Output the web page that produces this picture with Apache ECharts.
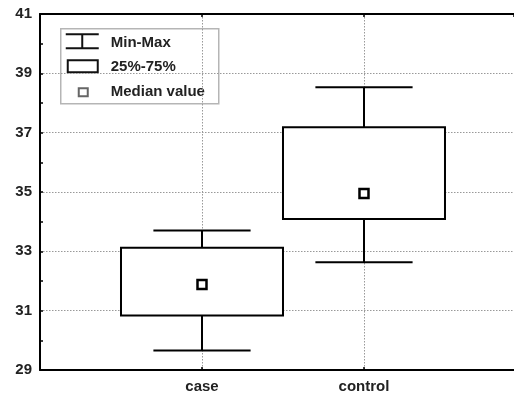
<!DOCTYPE html>
<html><head><meta charset="utf-8">
<script src="https://cdn.jsdelivr.net/npm/echarts@6/dist/echarts.min.js"></script>
<style>html,body{margin:0;padding:0;background:#fff}#c{width:514px;height:394px}</style>
</head><body><div id="c"></div>
<script>
var categories = ['case', 'control'];
var minVals = [29.66, 32.63];
var q1Vals = [30.84, 34.09];
var q3Vals = [33.12, 37.18];
var maxVals = [33.70, 38.53];
var medianVals = [31.88, 34.95];
var yTicks = [29, 31, 33, 35, 37, 39, 41];
var legendLabels = ['Min-Max', '25%-75%', 'Median value'];

var FONT = '"Liberation Sans", Arial, sans-serif';
var boxData = categories.map(function (c, i) { return [i + 1, minVals[i], maxVals[i], q1Vals[i], q3Vals[i]]; });
var medData = categories.map(function (c, i) { return [i + 1, medianVals[i]]; });

var chart = echarts.init(document.getElementById('c'), null, { renderer: 'canvas' });

function renderWhisker(params, api) {
  var x = api.value(0);
  var pMin = api.coord([x, api.value(1)]);
  var pMax = api.coord([x, api.value(2)]);
  var pQ1 = api.coord([x, api.value(3)]);
  var pQ3 = api.coord([x, api.value(4)]);
  var capHalf = api.size([0.3, 0])[0];
  var st = { stroke: '#000', lineWidth: 2 };
  return { type: 'group', children: [
    { type: 'line', shape: { x1: pMin[0], y1: pMin[1], x2: pQ1[0], y2: pQ1[1] }, style: st },
    { type: 'line', shape: { x1: pQ3[0], y1: pQ3[1], x2: pMax[0], y2: pMax[1] }, style: st },
    { type: 'line', shape: { x1: pMin[0] - capHalf, y1: pMin[1], x2: pMin[0] + capHalf, y2: pMin[1] }, style: st },
    { type: 'line', shape: { x1: pMax[0] - capHalf, y1: pMax[1], x2: pMax[0] + capHalf, y2: pMax[1] }, style: st }
  ]};
}
function renderBox(params, api) {
  var x = api.value(0);
  var pQ1 = api.coord([x, api.value(3)]);
  var pQ3 = api.coord([x, api.value(4)]);
  var half = api.size([0.5, 0])[0];
  return { type: 'rect', shape: { x: pQ1[0] - half, y: pQ3[1], width: half * 2, height: pQ1[1] - pQ3[1] },
    style: { fill: '#fff', stroke: '#000', lineWidth: 2 } };
}

var xBase = {
  type: 'value', min: 0, max: 2.926, interval: 1,
  axisLine: { show: true, lineStyle: { color: '#000', width: 2 } },
  axisTick: { show: true, inside: true, length: 3, lineStyle: { color: '#000', width: 1.5 } }
};

var option = {
  animation: false,
  backgroundColor: '#fff',
  grid: { left: 40, right: 0, top: 14, bottom: 24, containLabel: false },
  xAxis: [
    Object.assign({}, xBase, {
      position: 'bottom',
      axisLabel: { margin: 9, color: '#222', fontFamily: FONT, fontWeight: 'bold', fontSize: 15,
        showMaxLabel: false,
        formatter: function (v) { return categories[Math.round(v) - 1] && Math.abs(v - Math.round(v)) < 1e-6 ? categories[Math.round(v) - 1] : ''; } },
      splitLine: { show: true, lineStyle: { color: '#999', type: [1.5, 1.5], width: 1 } }
    }),
    Object.assign({}, xBase, { position: 'top', axisLabel: { show: false }, splitLine: { show: false } })
  ],
  yAxis: {
    type: 'value', min: yTicks[0], max: yTicks[yTicks.length - 1], interval: 2,
    axisLine: { show: true, lineStyle: { color: '#000', width: 2 } },
    axisTick: { show: true, inside: true, length: 3, lineStyle: { color: '#000', width: 1.5 } },
    minorTick: { show: true, splitNumber: 2, length: 3, lineStyle: { color: '#000', width: 1.5 } },
    axisLabel: { margin: 8, color: '#222', fontFamily: FONT, fontWeight: 'bold', fontSize: 15 },
    splitLine: { show: true, lineStyle: { color: '#999', type: [1.5, 1.5], width: 1 } }
  },
  series: [
    { name: legendLabels[0], type: 'custom', renderItem: renderWhisker, data: boxData, z: 3,
      encode: { x: 0, y: [1, 2, 3, 4] } },
    { name: legendLabels[1], type: 'custom', renderItem: renderBox, data: boxData, z: 4,
      encode: { x: 0, y: [3, 4] } },
    { name: legendLabels[2], type: 'scatter', data: medData, z: 5, symbol: 'rect', symbolSize: 9,
      itemStyle: { color: '#fff', borderColor: '#000', borderWidth: 2.5, opacity: 1 } }
  ],
  graphic: [
    { type: 'group', left: 60, top: 28, z: 100, children: [
      { type: 'rect', shape: { x: 0, y: 0, width: 158, height: 75 }, style: { fill: '#fff', stroke: '#b5b5b5', lineWidth: 1.5 } },
      { type: 'line', shape: { x1: 5, y1: 5.5, x2: 38, y2: 5.5 }, style: { stroke: '#111', lineWidth: 2 } },
      { type: 'line', shape: { x1: 21.5, y1: 5.5, x2: 21.5, y2: 19.5 }, style: { stroke: '#111', lineWidth: 2 } },
      { type: 'line', shape: { x1: 5, y1: 19.5, x2: 38, y2: 19.5 }, style: { stroke: '#111', lineWidth: 2 } },
      { type: 'rect', shape: { x: 7, y: 31.5, width: 30, height: 12 }, style: { fill: '#fff', stroke: '#111', lineWidth: 2 } },
      { type: 'rect', shape: { x: 18, y: 59.5, width: 9, height: 8 }, style: { fill: '#fff', stroke: '#666', lineWidth: 2 } },
      { type: 'text', x: 50, y: 14.5, style: { text: legendLabels[0], fill: '#222', font: 'bold 15px ' + FONT, verticalAlign: 'middle' } },
      { type: 'text', x: 50, y: 38.5, style: { text: legendLabels[1], fill: '#222', font: 'bold 15px ' + FONT, verticalAlign: 'middle' } },
      { type: 'text', x: 50, y: 63, style: { text: legendLabels[2], fill: '#222', font: 'bold 15px ' + FONT, verticalAlign: 'middle' } }
    ]}
  ]
};
chart.setOption(option);
</script>
</body></html>
